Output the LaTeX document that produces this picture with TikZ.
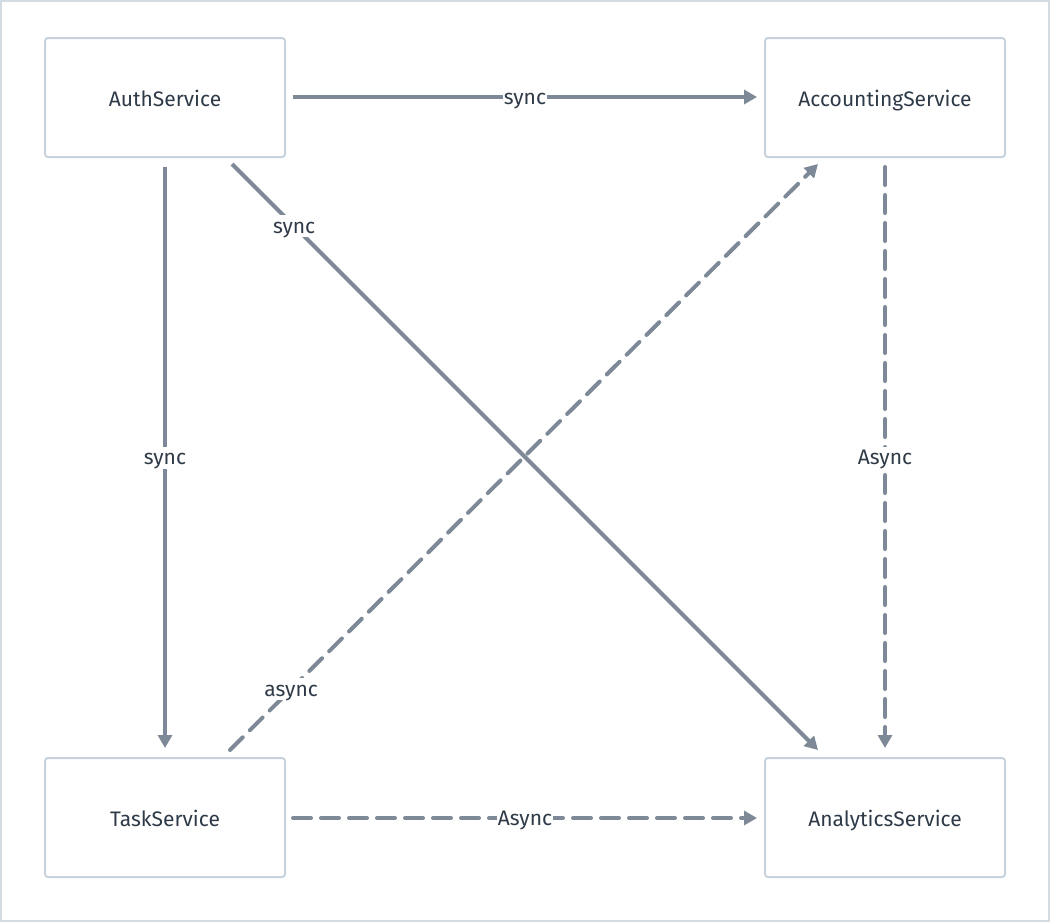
\documentclass[tikz,border=0pt]{standalone}
\usepackage{fontspec}
\setmainfont{Fira Sans}
\usetikzlibrary{arrows.meta}
\definecolor{boxline}{HTML}{C8D2DC}
\definecolor{frameline}{HTML}{D3DBE3}
\definecolor{edge}{HTML}{7D8997}
\definecolor{txt}{HTML}{2E3A47}
\tikzset{
  svc/.style={draw=boxline, line width=2pt, rounded corners=3pt, minimum width=240pt, minimum height=119pt, inner sep=0pt, text=txt, text height=20pt, text depth=3pt, font=\fontsize{21}{24}\selectfont},
  conn/.style={draw=edge, line width=4pt, -{Triangle[length=13pt,width=14pt]}, shorten >=0pt},
  dashedconn/.style={conn, dash pattern=on 18pt off 10pt, line cap=round},
  lbl/.style={fill=white, text=txt, inner sep=1pt, text height=17pt, text depth=3pt, font=\fontsize{21}{24}\selectfont}
}
\begin{document}
\begin{tikzpicture}[x=1pt,y=-1pt]
\useasboundingbox (0,0) rectangle (1050,922);
\draw[frameline, line width=2pt] (1,1) rectangle (1049,921);
\node[svc] (auth) at (165,97.5) {AuthService};
\node[svc] (acc) at (885,97.5) {AccountingService};
\node[svc] (task) at (165,817.5) {TaskService};
\node[svc] (ana) at (885,817.5) {AnalyticsService};
% connector endpoints
\coordinate (a1) at (293,97);
\coordinate (a2) at (757,97);
\coordinate (b1) at (165,167);
\coordinate (b2) at (165,748);
\coordinate (c1) at (232,164);
\coordinate (c2) at (818,750);
\coordinate (d1) at (230,750);
\coordinate (d2) at (818,164);
\coordinate (e1) at (885,167);
\coordinate (e2) at (885,748);
\coordinate (f1) at (293,818);
\coordinate (f2) at (757,818);
\path[conn] (a1) -- (a2) node[lbl, pos=0.5] {sync};
\path[conn] (b1) -- (b2) node[lbl, pos=0.5] {sync};
\path[conn] (c1) -- (c2) node[lbl, pos=0.106] {sync};
\path[dashedconn] (d1) -- (d2) node[lbl, pos=0.104] {async};
\path[dashedconn] (e1) -- (e2) node[lbl, pos=0.5] {Async};
\path[dashedconn] (f1) -- (f2) node[lbl, pos=0.5] {Async};
\end{tikzpicture}
\end{document}
